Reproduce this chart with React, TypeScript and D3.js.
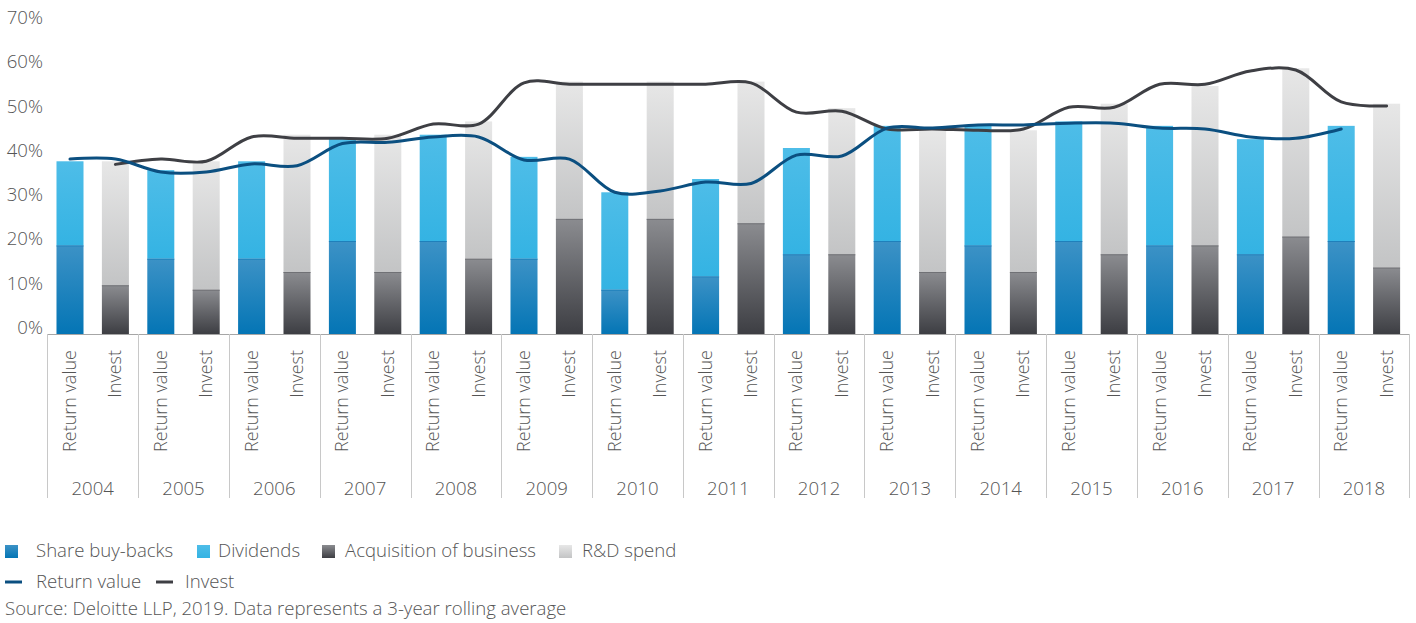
import React from "react";
import * as d3 from "d3";

const years = ["2004","2005","2006","2007","2008","2009","2010","2011","2012","2013","2014","2015","2016","2017","2018"];
const barTypes = ["Return value", "Invest"];

// Return value stack
const shareBuybacks = [20, 17, 17, 21, 21, 17, 10, 13, 18, 21, 20, 21, 20, 18, 21];
const dividends = [19, 20, 22, 23, 24, 23, 22, 22, 24, 26, 27, 27, 27, 26, 26];
// Invest stack
const acquisitions = [11, 10, 14, 14, 17, 26, 26, 25, 18, 14, 14, 18, 20, 22, 15];
const rdSpend = [28, 29, 31, 31, 31, 31, 31, 32, 33, 32, 32, 34, 36, 38, 37];

// Line series, one value per category (Return value / Invest of each year)
const returnValueLine: (number | null)[] = [
  39.5, 39.5, 36.6, 36.6, 38.4, 38.0, 43.0, 43.3, 44.5, 44.5,
  39.3, 39.5, 32.0, 32.3, 34.3, 34.0, 40.4, 40.2, 46.5, 46.5,
  47.2, 47.2, 47.6, 47.6, 46.5, 46.3, 44.5, 44.2, 46.3, null,
];
const investLine: (number | null)[] = [
  null, 38.3, 39.5, 39.0, 44.5, 44.2, 44.2, 44.2, 47.4, 47.4,
  56.7, 56.4, 56.4, 56.4, 56.4, 56.7, 50.1, 50.3, 46.3, 46.3,
  46.0, 46.3, 51.2, 51.2, 56.4, 56.4, 59.4, 59.6, 52.4, 51.5,
];

const yTicks = [0, 10, 20, 30, 40, 50, 60, 70];

const barLegend = [
  { label: "Share buy-backs", grad: "gBuy" },
  { label: "Dividends", grad: "gDiv" },
  { label: "Acquisition of business", grad: "gAcq" },
  { label: "R&D spend", grad: "gRd" },
];
const lineLegend = [
  { label: "Return value", color: "#0b4f80" },
  { label: "Invest", color: "#3e3f44" },
];
const sourceText = "Source: Deloitte LLP, 2019. Data represents a 3-year rolling average";

const W = 1416;
const H = 623;
const FONT = "'Open Sans', sans-serif";
const TEXT = "#555555";
const FW = 300;
const FS = 18.6;

export default function App() {
  const left = 47.3;
  const right = 1409.3;
  const base = 334;
  const top = 24;

  const cats = years.flatMap((yr) => barTypes.map((t) => `${yr}|${t}`));
  const x = d3.scaleBand<string>().domain(cats).range([left, right]).paddingInner(0.405).paddingOuter(0.2025);
  const xYear = d3.scaleBand<string>().domain(years).range([left, right]).padding(0);
  const y = d3.scaleLinear().domain([0, 70]).range([base, top]);
  const bw = x.bandwidth();

  const cx = (i: number) => (x(cats[i]) as number) + bw / 2;
  const lineGen = d3
    .line<number | null>()
    .defined((d) => d !== null)
    .x((_, i) => cx(i))
    .y((d) => y(d as number))
    .curve(d3.curveCatmullRom.alpha(0.5));

  const bars: React.ReactNode[] = [];
  years.forEach((yr, i) => {
    const xr = x(`${yr}|Return value`) as number;
    const xi = x(`${yr}|Invest`) as number;
    const b = shareBuybacks[i];
    const dv = dividends[i];
    const a = acquisitions[i];
    const r = rdSpend[i];
    bars.push(
      <g key={yr}>
        <rect x={xr} y={y(b + dv)} width={bw} height={y(b) - y(b + dv)} fill="url(#gDiv)" />
        <rect x={xr} y={y(b)} width={bw} height={base - y(b)} fill="url(#gBuy)" />
        <line x1={xr} x2={xr + bw} y1={y(b) + 0.5} y2={y(b) + 0.5} stroke="#1f80bb" strokeWidth={1} />
        <rect x={xi} y={y(a + r)} width={bw} height={y(a) - y(a + r)} fill="url(#gRd)" />
        <rect x={xi} y={y(a)} width={bw} height={base - y(a)} fill="url(#gAcq)" />
        <line x1={xi} x2={xi + bw} y1={y(a) + 0.5} y2={y(a) + 0.5} stroke="#707175" strokeWidth={1} />
      </g>
    );
  });

  // legend layout
  const legSq = [5, 197, 322, 559];
  const legTx = [36, 218, 345, 582];

  return (
    <svg width={W} height={H} style={{ position: "absolute", left: 0, top: 0, background: "#fff" }} fontFamily={FONT} fontWeight={FW}>
      <defs>
        <linearGradient id="gBuy" x1="0" y1="0" x2="0" y2="1">
          <stop offset="0" stopColor="#3c92c6" />
          <stop offset="1" stopColor="#0475b5" />
        </linearGradient>
        <linearGradient id="gDiv" x1="0" y1="0" x2="0" y2="1">
          <stop offset="0" stopColor="#4ebde8" />
          <stop offset="1" stopColor="#34b3e3" />
        </linearGradient>
        <linearGradient id="gAcq" x1="0" y1="0" x2="0" y2="1">
          <stop offset="0" stopColor="#8b8c90" />
          <stop offset="1" stopColor="#3d3e43" />
        </linearGradient>
        <linearGradient id="gRd" x1="0" y1="0" x2="0" y2="1">
          <stop offset="0" stopColor="#e7e7e7" />
          <stop offset="1" stopColor="#c3c4c5" />
        </linearGradient>
      </defs>

      {/* y tick labels */}
      {yTicks.map((t) => (
        <text key={t} x={43} y={y(t) - 5} textAnchor="end" dominantBaseline="middle" fontSize={FS} fill={TEXT}>
          {t}%
        </text>
      ))}

      {bars}

      {/* x axis */}
      <line x1={left} x2={right} y1={base + 0.5} y2={base + 0.5} stroke="#a6a6a6" strokeWidth={1} />
      {years.map((yr) => (
        <line
          key={"sep" + yr}
          x1={Math.round(xYear(yr) as number) + 0.5}
          x2={Math.round(xYear(yr) as number) + 0.5}
          y1={base}
          y2={498}
          stroke="#c8c8c8"
          strokeWidth={1}
        />
      ))}
      <line x1={Math.round(right) + 0.5} x2={Math.round(right) + 0.5} y1={base} y2={498} stroke="#c8c8c8" strokeWidth={1} />

      {/* category labels */}
      {cats.map((c, i) => {
        const t = c.split("|")[1];
        const px = cx(i) + 6;
        return (
          <text
            key={"cl" + c}
            transform={`translate(${px},350) rotate(-90)`}
            textAnchor="end"
            fontSize={18}
            fill={TEXT}
          >
            {t}
          </text>
        );
      })}
      {years.map((yr) => (
        <text
          key={"yl" + yr}
          x={(xYear(yr) as number) + xYear.bandwidth() / 2}
          y={490}
          textAnchor="middle"
          dominantBaseline="middle"
          fontSize={FS}
          fill={TEXT}
        >
          {yr}
        </text>
      ))}

      {/* lines */}
      <path d={lineGen(investLine) || ""} fill="none" stroke="#3e3f44" strokeWidth={3} strokeLinecap="round" />
      <path d={lineGen(returnValueLine) || ""} fill="none" stroke="#0b4f80" strokeWidth={3} strokeLinecap="round" />

      {/* legend */}
      {barLegend.map((l, i) => (
        <g key={l.label}>
          <rect x={legSq[i]} y={545} width={13} height={13} fill={`url(#${l.grad})`} />
          <text x={legTx[i]} y={552.5} dominantBaseline="middle" fontSize={FS} fill={TEXT}>
            {l.label}
          </text>
        </g>
      ))}
      {lineLegend.map((l, i) => (
        <g key={l.label}>
          <line x1={i === 0 ? 5 : 156} x2={i === 0 ? 22 : 173} y1={582} y2={582} stroke={l.color} strokeWidth={3} />
          <text x={i === 0 ? 36 : 185} y={583} dominantBaseline="middle" fontSize={FS} fill={TEXT}>
            {l.label}
          </text>
        </g>
      ))}
      <text x={5} y={610} dominantBaseline="middle" fontSize={FS} fill={TEXT}>
        {sourceText}
      </text>
    </svg>
  );
}
